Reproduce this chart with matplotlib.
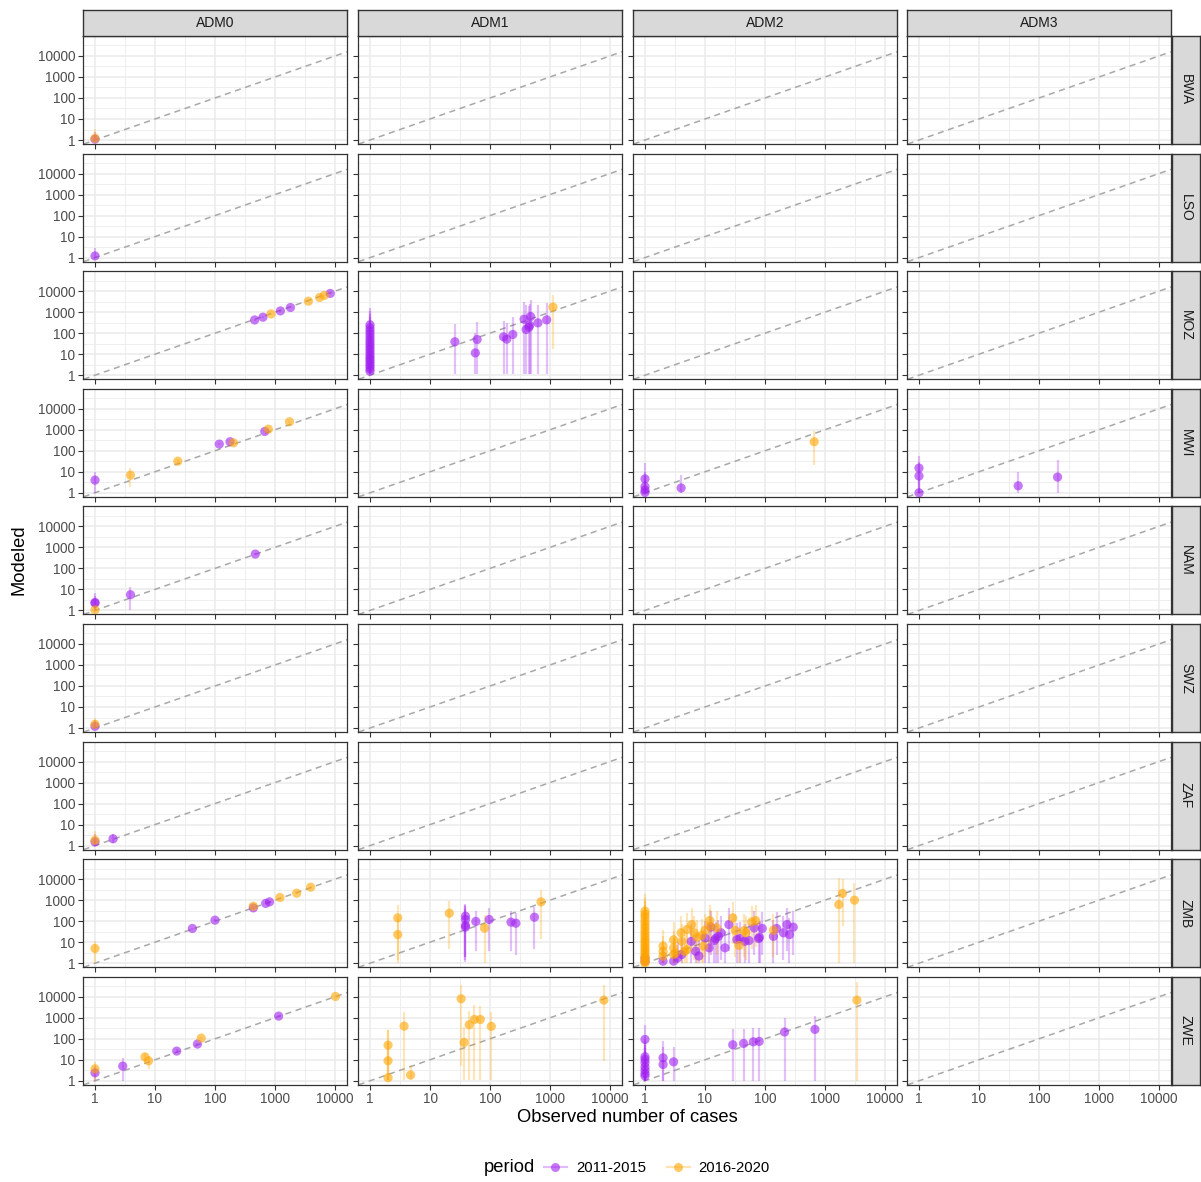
import matplotlib
matplotlib.use("Agg")
import matplotlib.pyplot as plt
from matplotlib.lines import Line2D
from matplotlib.ticker import FixedLocator, NullFormatter

plt.rcParams['font.family'] = ['Liberation Sans', 'DejaVu Sans']

A = "2011-2015"
B = "2016-2020"

countries = ["BWA", "LSO", "MOZ", "MWI", "NAM", "SWZ", "ZAF", "ZMB", "ZWE"]
levels = ["ADM0", "ADM1", "ADM2", "ADM3"]
ticks = [1, 10, 100, 1000, 10000]
tick_labels = ["1", "10", "100", "1000", "10000"]

# each row: (period, observed, modeled, lower, upper)
bwa_adm0 = [(A, 1, 1.1, 1.0, 2.5), (B, 1, 1.2, 1.0, 3.3)]

lso_adm0 = [(A, 1, 1.2, 1.0, 3.0)]

moz_adm0 = [
    (A, 458, 427, 380, 480), (A, 630, 575, 520, 640), (B, 860, 830, 760, 900),
    (A, 1230, 1150, 1050, 1260), (A, 1810, 1670, 1530, 1820),
    (B, 3600, 3330, 3050, 3650), (B, 5540, 5000, 4600, 5450),
    (B, 6640, 6300, 5800, 6850), (A, 8330, 7800, 7200, 8450),
]

moz_adm1 = [
    (A, 1, 1.55, 1.1, 9), (A, 1, 2.0, 1.1, 12), (A, 1, 2.6, 1.1, 15),
    (A, 1, 3.3, 1.2, 20), (A, 1, 4.3, 1.3, 26), (A, 1, 5.5, 1.5, 33),
    (A, 1, 7, 1.7, 42), (A, 1, 9, 2, 55), (A, 1, 12, 2.5, 72),
    (A, 1, 16, 3, 95), (A, 1, 21, 3.5, 125), (A, 1, 28, 4.5, 170),
    (A, 1, 37, 6, 220), (A, 1, 50, 8, 300), (A, 1, 68, 10, 400),
    (A, 1, 95, 14, 560), (A, 1, 130, 20, 780), (A, 1, 180, 28, 1100),
    (A, 1, 250, 38, 1600),
    (A, 26, 39, 1.1, 275), (A, 61, 50, 1.1, 330), (A, 57, 11.5, 1.1, 100),
    (A, 168, 67, 1.1, 400), (A, 190, 52, 1.1, 310), (A, 240, 87, 1.1, 580),
    (A, 370, 465, 1.1, 3100), (A, 400, 150, 1.1, 2300), (A, 447, 193, 1.1, 2000),
    (A, 475, 620, 1.1, 4000), (A, 457, 240, 1.1, 2500), (A, 630, 310, 1.1, 2150),
    (A, 880, 430, 1.1, 2750), (B, 1120, 1740, 18.6, 6900),
]

mwi_adm0 = [
    (A, 1, 4.0, 1.0, 9.3), (B, 3.9, 6.9, 1.95, 14.7), (B, 24, 32, 25, 40),
    (A, 118, 208, 180, 240), (A, 178, 270, 240, 300), (B, 203, 240, 210, 270),
    (A, 675, 830, 750, 920), (B, 775, 1070, 950, 1200), (B, 1740, 2400, 2150, 2650),
]

mwi_adm2 = [
    (A, 1, 4.6, 1.0, 27), (A, 1, 2.0, 1.0, 10), (A, 1, 1.36, 1.0, 6),
    (A, 1, 1.04, 1.0, 4), (A, 4.0, 1.7, 1.0, 7), (B, 660, 270, 20, 850),
]

mwi_adm3 = [
    (A, 1, 15, 1.0, 55), (A, 1, 6.3, 1.0, 30), (A, 1, 1.0, 1.0, 4),
    (A, 45, 2.15, 1.0, 10), (A, 204, 5.6, 1.0, 37),
]

nam_adm0 = [
    (A, 1, 2.2, 1.0, 6.7), (A, 1, 2.4, 1.0, 5), (B, 1, 1.05, 1.0, 2),
    (A, 3.9, 5.6, 1.0, 12.5), (A, 470, 480, 430, 530),
]

swz_adm0 = [(A, 1, 1.2, 1.0, 2.5), (B, 1, 1.5, 1.0, 3)]

zaf_adm0 = [(A, 1, 1.5, 1.0, 3.5), (B, 1, 1.8, 1.0, 5), (A, 2, 2.1, 1.3, 3.5)]

zmb_adm0 = [
    (B, 1, 5.0, 1.0, 12), (A, 42, 45, 40, 50), (A, 100, 112, 100, 125),
    (B, 435, 515, 460, 570), (A, 435, 430, 390, 470), (A, 700, 700, 640, 760),
    (A, 810, 830, 760, 900), (B, 1210, 1340, 1220, 1460),
    (B, 2300, 2150, 1960, 2350), (B, 3930, 4150, 3800, 4500),
]

zmb_adm1 = [
    (B, 2.9, 144, 1, 560), (B, 2.9, 23, 1.5, 150), (B, 21, 240, 5, 900),
    (A, 39, 173, 2, 630), (A, 39, 120, 2, 600), (A, 39, 63, 1.5, 500),
    (A, 39, 52, 1.2, 400), (A, 58, 97, 3.7, 320), (B, 81, 47, 1, 195),
    (A, 97, 120, 3.7, 420), (A, 224, 90, 3.7, 300), (A, 270, 80, 2.5, 250),
    (A, 550, 155, 5, 480), (B, 710, 830, 14, 3000),
]

zmb_adm2 = [
    (A, 1, 1.25, 1, 5), (A, 1, 1.8, 1, 8),
    (A, 2, 1.25, 1, 6), (A, 3, 1.25, 1, 7), (A, 3.5, 1.8, 1, 10),
    (A, 4.1, 2.6, 1, 15), (A, 5.9, 11, 1, 70), (A, 7, 3.7, 1, 22),
    (A, 7.9, 2.2, 1, 13), (A, 10, 16, 1, 100), (A, 11.7, 5.4, 1, 35),
    (A, 12.6, 52, 2.5, 320), (A, 14.3, 12, 1, 75), (A, 15, 15, 1, 95),
    (A, 16.7, 19, 1, 120), (A, 18.5, 28, 1.5, 170), (A, 21.5, 5.4, 1, 35),
    (A, 25, 69, 4, 420), (A, 34, 13.4, 1, 85), (A, 38, 15, 1, 95),
    (A, 46, 11, 1, 70), (A, 54, 12, 1, 75), (A, 66, 48, 2.5, 300),
    (A, 78, 15, 1, 95), (A, 81, 17, 1, 105), (A, 90, 45, 2.5, 280),
    (A, 138, 19, 1, 120), (A, 156, 45, 2.5, 280), (A, 203, 28, 1.5, 170),
    (A, 233, 69, 4, 420), (A, 256, 23, 1, 140), (A, 296, 52, 2.5, 320),
    (B, 1, 1.0, 1, 6), (B, 1, 1.2, 1, 7), (B, 1, 1.5, 1, 9), (B, 1, 1.9, 1, 11),
    (B, 1, 2.4, 1, 14), (B, 1, 3.2, 1, 19), (B, 1, 4.2, 1, 25), (B, 1, 5.5, 1, 33),
    (B, 1, 7.3, 1, 44), (B, 1, 10, 1, 60), (B, 1, 13, 1, 80), (B, 1, 18, 1, 110),
    (B, 1, 25, 1, 150), (B, 1, 35, 1, 210), (B, 1, 50, 1, 300), (B, 1, 70, 1, 420),
    (B, 1, 100, 1, 600), (B, 1, 150, 1, 900), (B, 1, 210, 1, 1300),
    (B, 1, 300, 1, 1900),
    (B, 2, 6.5, 1, 40), (B, 2, 3.7, 1, 20), (B, 2, 2.2, 1, 12),
    (B, 3, 13, 1, 90), (B, 3, 5.4, 1, 35), (B, 3, 2.6, 1, 15),
    (B, 3.2, 3.1, 1, 18), (B, 4.1, 11, 1, 70), (B, 4.0, 28, 2, 170),
    (B, 4.6, 3.7, 1, 22), (B, 5, 40, 3, 250), (B, 5, 4.5, 1, 28),
    (B, 6, 69, 4, 420), (B, 6.6, 28, 1.5, 170), (B, 7.4, 17, 1, 110),
    (B, 8.8, 21, 1, 130), (B, 9.4, 6.5, 1, 40), (B, 10, 37, 2, 230),
    (B, 12, 107, 5, 600), (B, 12, 58, 3, 350), (B, 15.6, 48, 2.5, 300),
    (B, 29, 144, 8, 800), (B, 32, 36, 2, 220), (B, 37, 7, 1, 45),
    (B, 45, 36, 2, 220), (B, 48, 28, 1.5, 170), (B, 60, 93, 5, 550),
    (B, 70, 107, 6, 620), (B, 138, 37, 2, 230),
    (B, 1700, 620, 1.0, 11500), (B, 1960, 2090, 60, 10000),
    (B, 3100, 1000, 1.0, 6300),
]

zwe_adm0 = [
    (B, 1, 3.7, 1.0, 8), (A, 1, 2.4, 1.0, 5), (A, 2.9, 5.0, 1.0, 12),
    (B, 6.8, 13.8, 8, 20), (B, 7.8, 8.9, 3.8, 15), (A, 23, 26, 22, 31),
    (A, 51, 56, 49, 64), (B, 59, 108, 95, 125), (A, 1150, 1200, 1100, 1320),
    (B, 10200, 10300, 9500, 11200),
]

zwe_adm1 = [
    (B, 2, 50, 1.1, 260), (B, 2, 9, 1.1, 260), (B, 2, 1.4, 1.1, 60),
    (B, 3.7, 400, 1.1, 1940), (B, 4.75, 1.9, 1.1, 5.8), (B, 33, 8000, 5, 37000),
    (B, 37, 67, 1.1, 370), (B, 45, 465, 1.1, 2100), (B, 55, 830, 1.1, 4200),
    (B, 69, 830, 1.1, 3800), (B, 105, 390, 1.1, 1940), (B, 7900, 6900, 9, 36000),
]

zwe_adm2 = [
    (A, 1, 93, 1, 460), (A, 1, 14, 1, 100), (A, 1, 10.4, 1, 80), (A, 1, 7.2, 1, 50),
    (A, 1, 4.6, 1, 35), (A, 1, 3.2, 1, 20), (A, 1, 2.2, 1, 12), (A, 1, 1.7, 1, 8),
    (A, 2, 12.4, 1, 80), (A, 2, 6, 1, 40), (A, 3, 8, 1, 40), (A, 29, 52, 1, 290),
    (A, 44, 60, 1, 300), (A, 64, 72, 1, 330), (A, 80, 75, 1, 320),
    (A, 212, 210, 1, 960), (A, 680, 280, 1, 1260), (B, 3400, 6900, 1, 51000),
]

panels = {
    ("BWA", "ADM0"): bwa_adm0, ("LSO", "ADM0"): lso_adm0,
    ("MOZ", "ADM0"): moz_adm0, ("MOZ", "ADM1"): moz_adm1,
    ("MWI", "ADM0"): mwi_adm0, ("MWI", "ADM2"): mwi_adm2, ("MWI", "ADM3"): mwi_adm3,
    ("NAM", "ADM0"): nam_adm0, ("SWZ", "ADM0"): swz_adm0, ("ZAF", "ADM0"): zaf_adm0,
    ("ZMB", "ADM0"): zmb_adm0, ("ZMB", "ADM1"): zmb_adm1, ("ZMB", "ADM2"): zmb_adm2,
    ("ZWE", "ADM0"): zwe_adm0, ("ZWE", "ADM1"): zwe_adm1, ("ZWE", "ADM2"): zwe_adm2,
}

colors = {A: (0.627, 0.125, 0.941), B: (1.0, 0.647, 0.0)}
XLIM = (10 ** -0.2, 10 ** 4.2)
YLIM = (10 ** -0.19, 10 ** 4.95)

W, H = 1201, 1182
col_left = [83, 358, 633, 907]
PW, PH = 264, 108
ROW_STEP = 117.6
TOP = 36


def rect(x0, y0, w, h):
    return [x0 / W, 1 - (y0 + h) / H, w / W, h / H]


def style_strip(ax):
    ax.set_facecolor("#D9D9D9")
    ax.set_xticks([])
    ax.set_yticks([])
    for s in ax.spines.values():
        s.set_color("#333333")
        s.set_linewidth(1.0)


fig = plt.figure(figsize=(W / 100, H / 100), dpi=100)
minor = [10 ** (k + 0.5) for k in range(0, 5)]

for i, country in enumerate(countries):
    top = TOP + i * ROW_STEP
    for j, level in enumerate(levels):
        ax = fig.add_axes(rect(col_left[j], top, PW, PH))
        ax.set_xscale("log")
        ax.set_yscale("log")
        ax.set_xlim(*XLIM)
        ax.set_ylim(*YLIM)
        ax.set_xticks(ticks)
        ax.set_yticks(ticks)
        ax.xaxis.set_minor_locator(FixedLocator(minor))
        ax.yaxis.set_minor_locator(FixedLocator(minor))
        ax.xaxis.set_minor_formatter(NullFormatter())
        ax.yaxis.set_minor_formatter(NullFormatter())
        ax.grid(True, which="major", color="#EBEBEB", lw=1.1)
        ax.grid(True, which="minor", color="#EBEBEB", lw=0.6)
        ax.set_axisbelow(True)
        ax.tick_params(which="minor", length=0)
        ax.tick_params(which="major", direction="out", length=3.5, width=0.8,
                       color="#333333", labelsize=9.8, labelcolor="#4D4D4D", pad=2)
        if i == len(countries) - 1:
            ax.set_xticklabels(tick_labels)
        else:
            ax.set_xticklabels([])
        if j == 0:
            ax.set_yticklabels(tick_labels)
        else:
            ax.set_yticklabels([])
        for s in ax.spines.values():
            s.set_color("#333333")
            s.set_linewidth(0.9)

        # 1:1 reference line
        ax.axline((1, 1), (10, 10), color="#A8A8A8", lw=1.1, ls=(0, (4, 3)), zorder=1)

        rows = panels.get((country, level), [])
        for period in (A, B):
            r, g, b = colors[period]
            sub = [row for row in rows if row[0] == period]
            if not sub:
                continue
            xs = [row[1] for row in sub]
            lo = [row[3] for row in sub]
            hi = [row[4] for row in sub]
            ax.vlines(xs, lo, hi, color=(r, g, b, 0.28), lw=1.6, zorder=2)
        for period in (A, B):
            r, g, b = colors[period]
            sub = [row for row in rows if row[0] == period]
            if not sub:
                continue
            ax.scatter([row[1] for row in sub], [row[2] for row in sub],
                       s=44, color=(r, g, b, 0.6), edgecolors="none", zorder=3)

        if i == 0:
            sax = fig.add_axes(rect(col_left[j], 10, PW, 26))
            style_strip(sax)
            sax.text(0.5, 0.5, level, ha="center", va="center",
                     fontsize=10, color="#1A1A1A", transform=sax.transAxes)
    sax = fig.add_axes(rect(1172, top, 28, PH))
    style_strip(sax)
    sax.text(0.5, 0.5, country, ha="center", va="center", rotation=-90,
             fontsize=10, color="#1A1A1A", transform=sax.transAxes)

fig.text(627 / W, 1 - 1117 / H, "Observed number of cases", ha="center", va="center",
         fontsize=13.2, color="black")
fig.text(19 / W, 1 - 560 / H, "Modeled", ha="center", va="center", rotation=90,
         fontsize=13.2, color="black")

handles = []
for period in (A, B):
    r, g, b = colors[period]
    handles.append(Line2D([], [], color=(r, g, b, 0.3), lw=1.6, marker="o",
                          markersize=6.5, markerfacecolor=(r, g, b, 0.6),
                          markeredgecolor="none", label=period))
fig.text(484 / W, 1 - 1168 / H, "period", ha="left", va="center", fontsize=13.2)
fig.legend(handles=handles, loc="center left", bbox_to_anchor=(538 / W, 1 - 1168 / H),
           ncol=2, frameon=False, fontsize=10.7, handlelength=1.55, handletextpad=0.6,
           columnspacing=1.4, borderaxespad=0)

fig.savefig("out.png", dpi=100, facecolor="white")
